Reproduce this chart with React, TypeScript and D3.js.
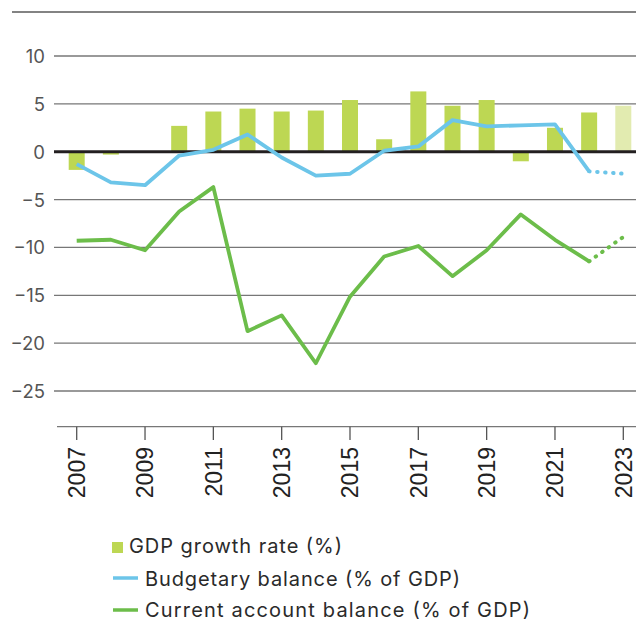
import React from "react";
import * as d3 from "d3";

const years = [2007, 2008, 2009, 2010, 2011, 2012, 2013, 2014, 2015, 2016, 2017, 2018, 2019, 2020, 2021, 2022, 2023];
const gdpGrowth = [-1.9, -0.3, -0.1, 2.7, 4.2, 4.5, 4.2, 4.3, 5.4, 1.3, 6.3, 4.8, 5.4, -1.0, 2.5, 4.1, 4.8];
const budgetBalance = [-1.3, -3.2, -3.5, -0.4, 0.2, 1.8, -0.6, -2.5, -2.3, 0.1, 0.55, 3.3, 2.65, 2.75, 2.85, -2.05, -2.3];
const currentAccount = [-9.3, -9.2, -10.3, -6.25, -3.7, -18.75, -17.1, -22.1, -15.15, -10.95, -9.85, -13.0, -10.3, -6.55, -9.2, -11.45, -8.9];
const yTicks = [10, 5, 0, -5, -10, -15, -20, -25];
const xTickYears = [2007, 2009, 2011, 2013, 2015, 2017, 2019, 2021, 2023];
const forecastYear = 2023;
const legendLabels = ["GDP growth rate (%)", "Budgetary balance (% of GDP)", "Current account balance (% of GDP)"];

const W = 636;
const H = 621;
const BAR = "#bdd753";
const BAR_LIGHT = "#e2ebb0";
const BLUE = "#6cc5e9";
const GREEN = "#6cbd4a";
const FONT = "Inter, 'Noto Sans', sans-serif";

export default function App() {
  const x = d3.scaleLinear().domain([2007, 2023]).range([76.7, 623.3]);
  const y = d3.scaleLinear().domain([-25, 10]).range([391, 56]);
  const barW = 16;
  const line = d3
    .line<[number, number]>()
    .x((d) => x(d[0]))
    .y((d) => y(d[1]));

  const split = (vals: number[]) => {
    const pts: [number, number][] = years.map((yr, i) => [yr, vals[i]]);
    const fi = years.indexOf(forecastYear);
    return { solid: pts.slice(0, fi), dotted: pts.slice(fi - 1) };
  };
  const b = split(budgetBalance);
  const c = split(currentAccount);

  return (
    <svg width={W} height={H} style={{ position: "absolute", left: 0, top: 0, background: "#fff" }}>
      <line x1={12} x2={W} y1={12} y2={12} stroke="#5a5a5a" strokeWidth={1.5} />
      {yTicks.map((t) => (
        <g key={t}>
          {t !== 0 && <line x1={54} x2={W} y1={y(t)} y2={y(t)} stroke="#777" strokeWidth={1.3} />}
          <text x={45} y={y(t)} dy="0.38em" textAnchor="end" fontFamily={FONT} fontSize={18.5} fill="#555">
            {t < 0 ? "\u2212" + Math.abs(t) : t}
          </text>
        </g>
      ))}
      {years.map((yr, i) => {
        const v = gdpGrowth[i];
        return (
          <rect
            key={yr}
            x={x(yr) - barW / 2}
            width={barW}
            y={Math.min(y(v), y(0))}
            height={Math.abs(y(v) - y(0))}
            fill={yr === forecastYear ? BAR_LIGHT : BAR}
          />
        );
      })}
      <line x1={54} x2={W} y1={y(0)} y2={y(0)} stroke="#231f20" strokeWidth={3} />
      <path d={line(b.solid) || ""} fill="none" stroke={BLUE} strokeWidth={3.8} strokeLinejoin="round" />
      <path d={line(b.dotted) || ""} fill="none" stroke={BLUE} strokeWidth={4} strokeLinecap="round" strokeDasharray="0.5 7.5" />
      <path d={line(c.solid) || ""} fill="none" stroke={GREEN} strokeWidth={3.8} strokeLinejoin="round" />
      <path d={line(c.dotted) || ""} fill="none" stroke={GREEN} strokeWidth={4} strokeLinecap="round" strokeDasharray="0.5 7.5" />
      <line x1={57} x2={W} y1={426.7} y2={426.7} stroke="#777" strokeWidth={1.3} />
      {xTickYears.map((yr) => (
        <g key={yr}>
          <line x1={x(yr)} x2={x(yr)} y1={426.7} y2={440} stroke="#555" strokeWidth={1.3} />
          <text
            transform={`translate(${x(yr)},447) rotate(-90)`}
            textAnchor="end"
            dy="0.36em"
            fontFamily="'Liberation Sans', Arial, sans-serif"
            fontSize={23}
            fill="#222"
          >
            {yr}
          </text>
        </g>
      ))}
      <g fontFamily={FONT} fontSize={20} fill="#2a2a2a">
        <rect x={112} y={542} width={11} height={11} fill={BAR} />
        <text x={129} y={553} textLength={213} lengthAdjust="spacing">{legendLabels[0]}</text>
        <line x1={113} x2={138} y1={578} y2={578} stroke={BLUE} strokeWidth={3.5} />
        <text x={145} y={586} textLength={315} lengthAdjust="spacing">{legendLabels[1]}</text>
        <line x1={113} x2={138} y1={610} y2={610} stroke={GREEN} strokeWidth={3.5} />
        <text x={145} y={617} textLength={385} lengthAdjust="spacing">{legendLabels[2]}</text>
      </g>
    </svg>
  );
}
